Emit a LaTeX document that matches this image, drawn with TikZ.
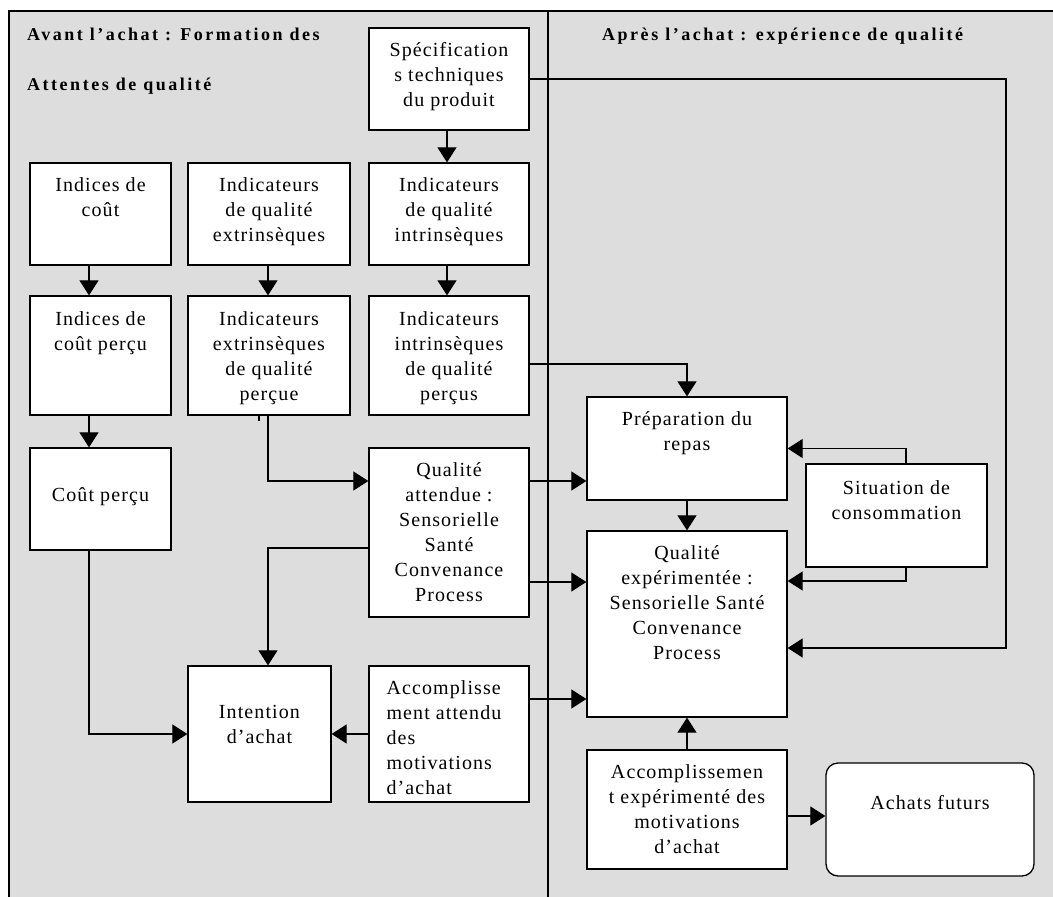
\documentclass[tikz,border=0pt]{standalone}
\usepackage{fontspec}
\setmainfont{Liberation Serif}[LetterSpace=5.5]
\newfontfamily\titlefont{Liberation Serif}[LetterSpace=14]
\usetikzlibrary{arrows.meta,fit,calc}
\definecolor{panelgray}{RGB}{221,221,221}
\tikzset{
 box/.style={draw=black, fill=white, line width=1.3pt, inner sep=0pt},
 rbox/.style={box, rounded corners=12pt},
 txt/.style={font=\fontsize{20}{25}\selectfont, inner sep=0pt, align=center},
 ttl/.style={font=\titlefont\bfseries\fontsize{18}{22}\selectfont, inner sep=0pt, anchor=base west},
 arr/.style={line width=1.2pt, -{Triangle[width=19pt,length=15pt]}},
 frameline/.style={line width=1.8pt},
}
\newcommand\btext[3]{\node[txt, anchor=north] (#1-t) at ($(#1.north)+(0,#2-17.5)$) {\strut #3};}
\begin{document}
\begin{tikzpicture}[x=1pt,y=-1pt]
\useasboundingbox (0,0) rectangle (1053,897);
% panels
\fill[panelgray] (9,10.7) rectangle (1053,897);
\draw[frameline] (9,897) -- (9,10.7) -- (1053,10.7);
\draw[frameline] (548,10.7) -- (548,897);
% titles
\node[ttl] (t1) at (27,40) {Avant l’achat : Formation des};
\node[ttl] (t2) at (27,90) {Attentes de qualité};
\node[ttl] (t3) at (602,40) {Après l’achat : expérience de qualité};
% column / row helper coordinates
\coordinate (cx1) at (89,0);
\coordinate (cx2) at (268,0);
\coordinate (cx3) at (447,0);
\coordinate (cx5) at (906,0);
\coordinate (cx6) at (1006,0);
\coordinate (r79) at (0,79);
\coordinate (r364) at (0,364);
\coordinate (r481) at (0,481);
\coordinate (r548) at (0,548);
\coordinate (r581) at (0,581);
\coordinate (r582) at (0,582);
\coordinate (r648) at (0,648);
\coordinate (r699) at (0,699);
\coordinate (r816) at (0,816);
% boxes
\node[box, fit={(369,28) (529,130)}] (spec) {};
\node[box, fit={(30,163) (171,265)}] (cout) {};
\node[box, fit={(188,163) (350,265)}] (extr1) {};
\node[box, fit={(369,163) (529,265)}] (intr1) {};
\node[box, fit={(30,296) (171,415)}] (coutp) {};
\node[box, fit={(188,296) (350,415)}] (extr2) {};
\node[box, fit={(369,296) (529,415)}] (intr2) {};
\node[box, fit={(30,448) (171,550)}] (coutper) {};
\node[box, fit={(369,448) (529,617)}] (qatt) {};
\node[box, fit={(188,666) (331,802)}] (intent) {};
\node[box, fit={(369,666) (529,802)}] (accatt) {};
\node[box, fit={(587,397) (787,500)}] (prep) {};
\node[box, fit={(806,464) (987,567)}] (sit) {};
\node[box, fit={(587,531) (787,717)}] (qexp) {};
\node[box, fit={(587,750) (787,869)}] (accexp) {};
\node[rbox, fit={(826,763) (1034,876)}] (futur) {};
% texts
\btext{spec}{29}{Spécification\\s techniques\\du produit}
\btext{cout}{29}{Indices de\\coût}
\btext{extr1}{29}{Indicateurs\\de qualité\\extrinsèques}
\btext{intr1}{29}{Indicateurs\\de qualité\\intrinsèques}
\btext{coutp}{30}{Indices de\\coût perçu}
\btext{extr2}{30}{Indicateurs\\extrinsèques\\de qualité\\perçue}
\btext{intr2}{30}{Indicateurs\\intrinsèques\\de qualité\\perçus}
\btext{coutper}{54}{Coût perçu}
\btext{qatt}{29}{Qualité\\attendue :\\Sensorielle\\Santé\\Convenance\\Process}
\btext{intent}{53}{Intention\\d’achat}
\node[txt, align=left, anchor=north west] (accatt-t) at ($(accatt.north west)+(18,29-17.5)$) {\strut Accomplisse\\ment attendu\\des\\motivations\\d’achat};
\btext{prep}{29}{Préparation du\\repas}
\btext{sit}{30.5}{Situation de\\consommation}
\btext{qexp}{29}{Qualité\\expérimentée :\\Sensorielle Santé\\Convenance\\Process}
\btext{accexp}{29}{Accomplissemen\\t expérimenté des\\motivations\\d’achat}
\btext{futur}{47}{Achats futurs}
% small stray mark under the extrinsic box
\fill (257.5,415) rectangle (259.5,421);
% connectors
\draw[arr] (cout.south -| cx1) -- (coutp.north -| cx1);
\draw[arr] (coutp.south -| cx1) -- (coutper.north -| cx1);
\draw[arr] (extr1.south -| cx2) -- (extr2.north -| cx2);
\draw[arr] (spec.south -| cx3) -- (intr1.north -| cx3);
\draw[arr] (intr1.south -| cx3) -- (intr2.north -| cx3);
\draw[arr] (extr2.south -| cx2) |- (qatt.west |- r481);
\draw[arr] (qatt.west |- r548) -| (intent.north -| cx2);
\draw[arr] (coutper.south -| cx1) |- (intent.west);
\draw[arr] (accatt.west) -- (intent.east);
\draw[arr] (intr2.east |- r364) -| (prep.north);
\draw[arr] (qatt.east |- r481) -- (prep.west |- r481);
\draw[arr] (qatt.east |- r582) -- (qexp.west |- r582);
\draw[arr] (accatt.east |- r699) -- (qexp.west |- r699);
\draw[arr] (sit.north -| cx5) |- (prep.east);
\draw[arr] (sit.south -| cx5) |- (qexp.east |- r581);
\draw[arr] (prep.south) -- (qexp.north);
\draw[arr] (spec.east |- r79) -| (cx6 |- r648) -- (qexp.east |- r648);
\draw[arr] (accexp.north) -- (qexp.south);
\draw[arr] (accexp.east |- r816) -- (futur.west |- r816);
\end{tikzpicture}
\end{document}
